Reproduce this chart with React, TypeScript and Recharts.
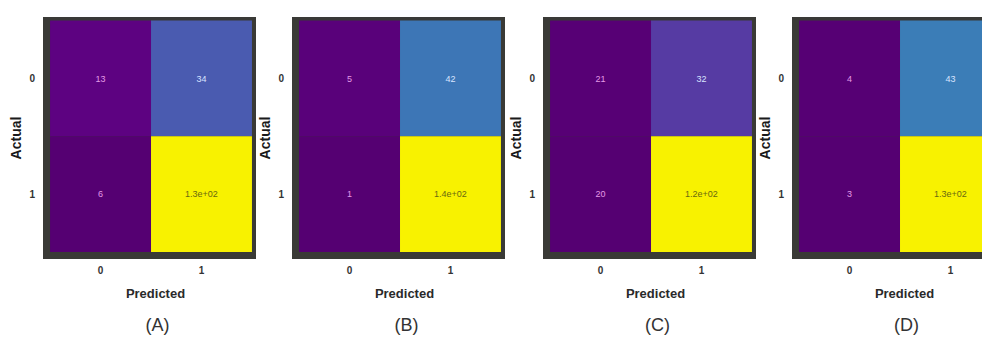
import { ScatterChart, Scatter, XAxis, YAxis, ReferenceArea } from "recharts"

const classes = [0, 1]
const captions = ["(A)", "(B)", "(C)", "(D)"]
const matrixA = [[13, 34], [6, 130]]
const matrixB = [[5, 42], [1, 140]]
const matrixC = [[21, 32], [20, 120]]
const matrixD = [[4, 43], [3, 130]]
const matrices = [matrixA, matrixB, matrixC, matrixD]

const FONT = "'Liberation Sans', Arial, sans-serif"

// purple -> blue -> yellow, roughly the (washed out) viridis of the figure
const stops: [number, number[]][] = [
  [0, [0x55, 0x00, 0x72]],
  [0.06, [0x5e, 0x02, 0x82]],
  [0.13, [0x55, 0x45, 0xa8]],
  [0.23, [0x4a, 0x5c, 0xb0]],
  [0.31, [0x3a, 0x7c, 0xb8]],
  [1, [0xf8, 0xf2, 0x00]],
]

function cmap(t: number) {
  for (let i = 1; i < stops.length; i++) {
    const [t1, c1] = stops[i]
    const [t0, c0] = stops[i - 1]
    if (t <= t1) {
      const f = (t - t0) / (t1 - t0 || 1)
      const c = c0.map((v, k) => Math.round(v + (c1[k] - v) * f))
      return `rgb(${c[0]},${c[1]},${c[2]})`
    }
  }
  return "rgb(248,242,0)"
}

// matplotlib-ish ".2g"
function fmt(v: number) {
  if (v < 100) return String(v)
  const e = Math.floor(Math.log10(v))
  return `${(v / 10 ** e).toFixed(1)}e+${String(e).padStart(2, "0")}`
}

function Caption({ viewBox, caption }: any) {
  const cx = viewBox.x + viewBox.width / 2 + 6
  return (
    <g fontFamily={FONT}>
      <text x={cx} y={viewBox.y + 39} textAnchor="middle" fontSize={13} fontWeight="bold" fill="#2a2a2a">Predicted</text>
      <text x={cx + 2} y={viewBox.y + 72} textAnchor="middle" fontSize={18} fill="#333">{caption}</text>
    </g>
  )
}

function ActualLabel({ viewBox }: any) {
  const x = viewBox.x + 18
  const y = viewBox.y + viewBox.height / 2
  return (
    <text x={x} y={y} transform={`rotate(-90 ${x} ${y})`} textAnchor="middle" fontFamily={FONT} fontSize={14} fontWeight="bold" fill="#1a1a1a">
      Actual
    </text>
  )
}

function Panel({ matrix, caption }: { matrix: number[][]; caption: string }) {
  const flat = matrix.flat()
  const lo = Math.min(...flat)
  const hi = Math.max(...flat)
  return (
    <ScatterChart width={260} height={338} margin={{ top: 17, right: 4, bottom: 0, left: 3 }}>
      <XAxis
        type="number"
        dataKey="x"
        domain={[-0.57, 1.54]}
        ticks={classes}
        allowDataOverflow
        height={79}
        axisLine={false}
        tickLine={false}
        tick={{ fontSize: 10, fontWeight: "bold", fill: "#333", fontFamily: FONT }}
        label={<Caption caption={caption} />}
      />
      <YAxis
        type="number"
        dataKey="y"
        domain={[-0.53, 1.56]}
        reversed
        ticks={classes}
        allowDataOverflow
        width={40}
        axisLine={false}
        tickLine={false}
        tick={{ fontSize: 10, fontWeight: "bold", fill: "#333", fontFamily: FONT }}
        label={<ActualLabel />}
      />
      <ReferenceArea x1={-0.57} x2={1.54} y1={-0.53} y2={1.56} fill="#3a3a36" fillOpacity={1} stroke="none" ifOverflow="hidden" />
      {classes.map((r) =>
        classes.map((c) => {
          const v = matrix[r][c]
          const t = (v - lo) / (hi - lo)
          return (
            <ReferenceArea
              key={`${r}-${c}`}
              x1={c - 0.5}
              x2={c + 0.5}
              y1={r - 0.5}
              y2={r + 0.5}
              fill={cmap(t)}
              fillOpacity={1}
              stroke="none"
              label={{
                value: fmt(v),
                position: "center",
                fontSize: 9,
                fontFamily: FONT,
                fill: t > 0.6 ? "#6a6a10" : t > 0.1 ? "#d8e4ff" : "#e39ae6",
              }}
            />
          )
        })
      )}
      <Scatter data={[]} isAnimationActive={false} />
    </ScatterChart>
  )
}

const panelLefts = [0, 249, 500, 749]

export default function App() {
  return (
    <div style={{ position: "absolute", left: 0, top: 0, width: 982, height: 338, overflow: "hidden", background: "#fff" }}>
      {matrices.map((m, i) => (
        <div key={captions[i]} style={{ position: "absolute", left: panelLefts[i], top: 0 }}>
          <Panel matrix={m} caption={captions[i]} />
        </div>
      ))}
    </div>
  )
}
